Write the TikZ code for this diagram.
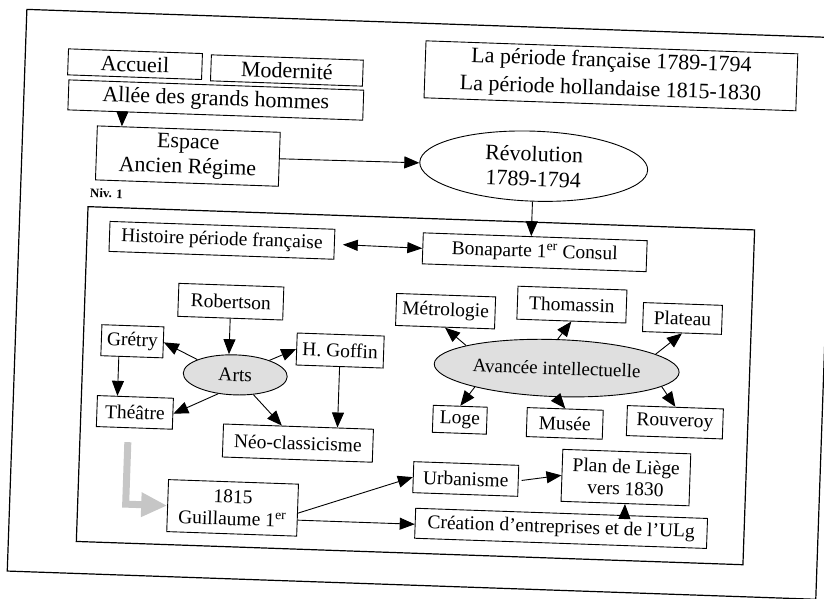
\documentclass[tikz,border=0pt]{standalone}
\usepackage{fontspec}
\setmainfont{Liberation Serif}
\usetikzlibrary{arrows.meta,shapes.geometric}

\begin{document}
\begin{tikzpicture}[x=1pt, y=-1pt, every node/.style={transform shape},
    box/.style={draw, line width=0.9pt, inner sep=2pt, align=center, font=\fontsize{19.5}{22}\selectfont},
    bigbox/.style={box, font=\fontsize{22}{25}\selectfont},
    oval/.style={draw, ellipse, line width=0.9pt, inner sep=0pt, align=center, font=\fontsize{19.5}{22}\selectfont},
    arr/.style={line width=0.9pt, -{Triangle[length=15pt,width=12pt]}},
    dblarr/.style={line width=0.9pt, {Triangle[length=15pt,width=11pt]}-{Triangle[length=15pt,width=11pt]}},
    grayarr/.style={line width=7pt, gray!45, -{Triangle[length=26pt,width=23pt]}}]
    \useasboundingbox (0,0) rectangle (824,598);
    \begin{scope}[rotate around={-2:(412,299)}]
        % frames
        \draw[line width=1.2pt] (17,23) rectangle (826,585);
        \draw[line width=1.2pt] (85,218) rectangle (752,553);

        % upper level
        \node[bigbox, minimum width=134pt, minimum height=26pt] (accueil) at (127,74) {Accueil};
        \node[bigbox, minimum width=152pt, minimum height=26pt] (modernite) at (279,75) {Modernité};
        \node[bigbox, minimum width=295pt, minimum height=30pt] (allee) at (209,107) {Allée des grands hommes};
        \node[bigbox, minimum width=183pt, minimum height=54pt] (espace) at (183,164) {Espace\\Ancien Régime};
        \node[bigbox, font=\fontsize{22}{28}\selectfont, inner sep=1pt, minimum width=372pt, minimum height=57pt] (periode) at (603,69)
            {La période française 1789-1794\\La période hollandaise 1815-1830};
        \node[oval, font=\fontsize{22}{25}\selectfont, minimum width=228pt, minimum height=70pt] (revolution) at (529,162)
            {Révolution\\1789-1794};
        \node[anchor=west, font=\bfseries\fontsize{13}{13}\selectfont] (niv) at (83,204) {Niv. 1};

        % level 1
        \node[box, minimum width=225pt, minimum height=30pt] (histoire) at (220,247) {Histoire période française};
        \node[box, minimum width=224pt, minimum height=31pt] (bonaparte) at (533,248) {Bonaparte 1\textsuperscript{er} Consul};

        \node[box, minimum width=105pt, minimum height=33pt] (robertson) at (231,308) {Robertson};
        \node[box, minimum width=62pt, minimum height=31pt] (gretry) at (134,351) {Grétry};
        \node[box, minimum width=87pt, minimum height=32pt] (goffin) at (342,353) {H. Goffin};
        \node[oval, fill=gray!25, minimum width=104pt, minimum height=40pt] (arts) at (238,381) {Arts};
        \node[box, minimum width=76pt, minimum height=31pt] (theatre) at (139,422) {Théâtre};
        \node[box, minimum width=150pt, minimum height=33pt] (neo) at (303,447) {Néo-classicisme};

        \node[box, minimum width=99pt, minimum height=32pt] (metrologie) at (446,310) {Métrologie};
        \node[box, minimum width=109pt, minimum height=33pt] (thomassin) at (572,299) {Thomassin};
        \node[box, minimum width=79pt, minimum height=29pt] (plateau) at (683,309) {Plateau};
        \node[oval, fill=gray!25, font=\fontsize{19}{19}\selectfont, minimum width=245pt, minimum height=57pt] (avancee) at (559,363)
            {Avancée intellectuelle};
        \node[box, minimum width=54pt, minimum height=27pt] (loge) at (464,418) {Loge};
        \node[box, minimum width=76pt, minimum height=29pt] (musee) at (569,418) {Musée};
        \node[box, minimum width=96pt, minimum height=30pt] (rouveroy) at (679,413) {Rouveroy};

        \node[box, minimum width=130pt, minimum height=52pt] (guillaume) at (240,514) {1815\\Guillaume 1\textsuperscript{er}};
        \node[box, minimum width=105pt, minimum height=31pt] (urbanisme) at (472,477) {Urbanisme};
        \node[box, minimum width=128pt, minimum height=52pt] (plan) at (632,470) {Plan de Liège\\vers 1830};
        \node[box, minimum width=292pt, minimum height=30pt] (creation) at (569,523) {Création d'entreprises et de l'ULg};

        % connectors
        \coordinate (ae) at ([xshift=25pt]espace.north west);
        \draw[arr] (ae |- allee.south) -- (ae);
        \draw[arr] (espace) -- (revolution);
        \draw[arr] (revolution.south) -- (revolution.south |- bonaparte.north);
        \draw[dblarr, shorten <=8pt] (histoire.east) -- (bonaparte.west);

        \draw[arr] (robertson.south) -- (robertson.south |- arts.north);
        \draw[arr] (arts.160) -- (gretry.east);
        \draw[arr] (arts.25) -- (goffin.west);
        \draw[arr] (arts.230) -- (theatre.east);
        \draw[arr] (arts) -- (neo);
        \draw[arr] (goffin.south) -- (goffin.south |- neo.north);
        \coordinate (gt) at ([xshift=-13pt]gretry.south);
        \draw[arr] (gt) -- (gt |- theatre.north);

        \draw[arr] (avancee.168) -- (metrologie.south);
        \draw[arr] (avancee.north) -- (thomassin.south);
        \draw[arr] (avancee.10) -- (plateau.south);
        \draw[arr] (avancee.195) -- (loge.north);
        \draw[arr] (avancee.south) -- (musee.north);
        \draw[arr] (avancee.-8) -- (rouveroy.north);

        \coordinate (g0) at (133,452);
        \draw[grayarr] (g0) |- (guillaume.west);
        \draw[arr] ([yshift=-3pt]guillaume.east) -- (urbanisme.west);
        \coordinate (gc) at ([yshift=-10pt]guillaume.east);
        \draw[arr] (gc) -- (gc -| creation.west);
        \draw[arr, shorten <=3pt] (urbanisme.east) -- (plan.west);
        \draw[arr] (plan.south |- creation.north) -- (plan.south);
    \end{scope}
\end{tikzpicture}
\end{document}
